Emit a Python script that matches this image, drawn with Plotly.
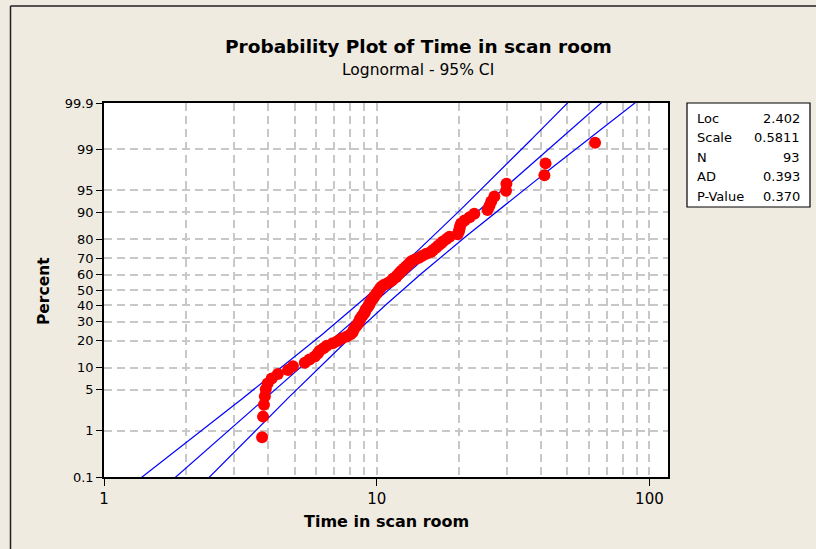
import numpy as np
import plotly.graph_objects as go
from statistics import NormalDist

times = [3.80, 3.83, 3.86, 3.89, 3.92, 3.98, 4.12, 4.34, 4.73, 4.93,
         5.45, 5.67, 5.93, 6.08, 6.18, 6.38, 6.56, 6.90, 7.20, 7.44,
         7.77, 8.02, 8.16, 8.22, 8.30, 8.40, 8.50, 8.60, 8.65, 8.70,
         8.80, 8.90, 9.00, 9.07, 9.10, 9.20, 9.30, 9.40, 9.45, 9.50,
         9.60, 9.70, 9.80, 9.90, 10.0, 10.1, 10.2, 10.3, 10.4, 10.6,
         10.9, 11.2, 11.4, 11.5, 11.8, 11.9, 12.1, 12.2, 12.4, 12.6,
         12.8, 13.0, 13.2, 13.4, 13.8, 14.3, 14.7, 15.2, 15.8, 16.1,
         16.5, 16.8, 17.2, 17.5, 18.0, 18.5, 19.8, 20.0, 20.1, 20.2,
         20.4, 21.0, 21.9, 22.8, 25.5, 25.9, 26.3, 27.0, 29.8, 29.9,
         41.2, 41.6, 63.2]

# Fit summary shown in the table
loc = 2.402
scale = 0.5811
n_obs = 93
stat_labels = ["Loc", "Scale", "N", "AD", "P-Value"]
stat_values = ["2.402", "0.5811", "93", "0.393", "0.370"]

pct_ticks = [0.1, 1, 5, 10, 20, 30, 40, 50, 60, 70, 80, 90, 95, 99, 99.9]
x_ticks = [1, 10, 100]
x_minor = [2, 3, 4, 5, 6, 7, 8, 9, 20, 30, 40, 50, 60, 70, 80, 90]

nd = NormalDist()
FONT = "DejaVu Sans"

# median ranks -> normal scores
ranks = np.arange(1, len(times) + 1)
z_pts = [nd.inv_cdf((r - 0.3) / (len(times) + 0.4)) for r in ranks]

# fitted line and 95% CI
zz = np.linspace(-3.3, 3.3, 300)
centre = loc + scale * zz
half = 1.96 * scale * np.sqrt(1.0 / n_obs + zz ** 2 / (2.0 * n_obs))

fig = go.Figure()
line_style = dict(color="#0000FF", width=1.2)
for curve in (centre - half, centre, centre + half):
    fig.add_trace(go.Scatter(x=np.exp(curve), y=zz, mode="lines",
                             line=line_style, hoverinfo="skip"))

fig.add_trace(go.Scatter(x=times, y=z_pts, mode="markers",
                         marker=dict(color="#FF0000", size=12),
                         cliponaxis=False))

zlim = nd.inv_cdf(0.999)
grid = dict(showgrid=True, gridcolor="#C8C8C8", gridwidth=1.5, griddash="8px,5px")

fig.update_xaxes(type="log", range=[0, np.log10(117)],
                 tickvals=x_ticks, ticktext=[str(v) for v in x_ticks],
                 ticks="outside", ticklen=7, tickcolor="black",
                 tickfont=dict(family=FONT, size=15, color="black"),
                 showline=True, linecolor="black", linewidth=1.5, mirror=True,
                 zeroline=False,
                 minor=dict(tickvals=x_minor, showgrid=True, gridcolor="#C8C8C8",
                            gridwidth=1.5, griddash="8px,5px", ticks=""),
                 **grid)
fig.update_yaxes(range=[-zlim, zlim],
                 tickvals=[nd.inv_cdf(p / 100) for p in pct_ticks],
                 ticktext=[str(p) for p in pct_ticks],
                 ticks="outside", ticklen=6, tickcolor="black",
                 tickfont=dict(family=FONT, size=13, color="black"),
                 showline=True, linecolor="black", linewidth=1.5, mirror=True,
                 zeroline=False, **grid)

# plot area spans x 104..668, y 103..477 px
def px_x(px):
    return (px - 104) / 564.0

def px_y(py):
    return (477 - py) / 374.0

ann = [
    dict(text="<b>Probability Plot of Time in scan room</b>", x=px_x(418), y=px_y(46),
         font=dict(size=18.5, family=FONT, color="black")),
    dict(text="Lognormal - 95% CI", x=px_x(418), y=px_y(70),
         font=dict(size=15.5, family=FONT, color="black")),
    dict(text="<b>Time in scan room</b>", x=px_x(386), y=px_y(521),
         font=dict(size=16, family=FONT, color="black")),
    dict(text="<b>Percent</b>", x=px_x(44), y=px_y(291), textangle=-90,
         font=dict(size=15.5, family=FONT, color="black")),
]
for k, (lab, val) in enumerate(zip(stat_labels, stat_values)):
    yy = px_y(118 + 19.6 * k)
    ann.append(dict(text=lab, x=px_x(695), y=yy, xanchor="left",
                    font=dict(size=13, family=FONT, color="black")))
    ann.append(dict(text=val, x=px_x(802), y=yy, xanchor="right",
                    font=dict(size=13, family=FONT, color="black")))
for a in ann:
    a.setdefault("xanchor", "center")
    a.update(xref="paper", yref="paper", yanchor="middle", showarrow=False)

shapes = [
    # stats box
    dict(type="rect", xref="paper", yref="paper", x0=px_x(687), x1=px_x(810),
         y0=px_y(207), y1=px_y(103), line=dict(color="black", width=1.2),
         fillcolor="white", layer="below"),
    # outer frame (left and top)
    dict(type="line", xref="paper", yref="paper", x0=px_x(10.5), x1=px_x(10.5),
         y0=px_y(560), y1=px_y(6), line=dict(color="#202020", width=1.5)),
    dict(type="line", xref="paper", yref="paper", x0=px_x(10.5), x1=px_x(830),
         y0=px_y(6), y1=px_y(6), line=dict(color="#202020", width=1.5)),
]

fig.update_layout(
    width=816, height=549,
    margin=dict(l=104, r=148, t=103, b=72),
    paper_bgcolor="#EFEBE1", plot_bgcolor="white",
    showlegend=False,
    annotations=ann, shapes=shapes,
)

fig.write_html("out.html", config={"displayModeBar": False},
               post_script="document.body.style.margin='0';")
